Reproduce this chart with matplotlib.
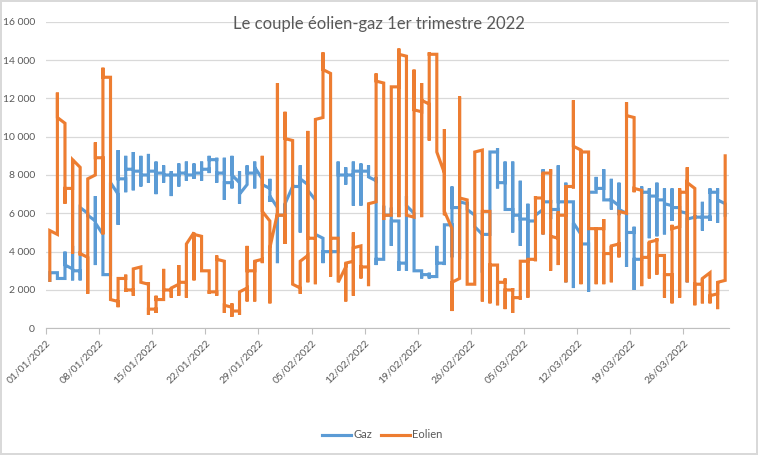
import numpy as np
import pandas as pd
import matplotlib.pyplot as plt

# one entry per day (01/01 -> 31/03): first value, min, max, last value of the day
gaz_open = [2500, 2900, 2600, 3100, 3000, 6000, 5600, 4900, 2800, 7000,
            7800, 8300, 8200, 8000, 8200, 8100, 8000, 8000, 8100, 8000,
            8100, 8300, 8800, 8100, 7600, 7600, 7500, 8100, 7800, 7300,
            6300, 5900, 7400, 7400, 7500, 6700, 4700, 4000, 4000, 8000,
            8000, 8200, 8200, 7700, 3600, 5900, 5600, 3400, 6000, 3000,
            2800, 2700, 3400, 5400, 6300, 6500, 5900, 4900, 4900, 9200,
            7600, 6200, 5900, 5700, 5600, 6200, 6600, 6200, 6600, 6600,
            4900, 4400, 7100, 7300, 6700, 6400, 6000, 5000, 3600, 7100,
            6900, 6700, 6400, 6300, 6000, 5800, 5800, 5800, 7100, 6500]
gaz_low = [2500, 2600, 2600, 2500, 2500, 5800, 3300, 2800, 2800, 5400,
           7100, 7200, 7400, 7600, 7000, 7600, 6900, 7400, 7700, 7800,
           7700, 8100, 7600, 6700, 7300, 6500, 7500, 7300, 7500, 6600,
           3400, 4400, 7300, 5000, 7200, 4900, 3400, 3900, 4000, 7500,
           6400, 6400, 7900, 3300, 3600, 4300, 3000, 3000, 3400, 2600,
           2600, 2700, 3300, 3700, 3600, 6300, 5500, 2900, 4900, 7300,
           6200, 5000, 4300, 3600, 5600, 4900, 5700, 5900, 2400, 2100,
           2400, 1900, 7100, 6900, 6200, 5900, 3200, 2000, 3600, 4700,
           4800, 4900, 5600, 6000, 2400, 5700, 5100, 5600, 5500, 5900]
gaz_high = [2900, 2900, 4000, 4300, 6300, 6000, 6900, 4900, 7600, 9300,
            9000, 9200, 9000, 9100, 8700, 8500, 8200, 8600, 8700, 8600,
            8700, 9000, 8900, 8900, 9000, 8200, 8500, 8700, 7800, 7800,
            6300, 6500, 7500, 8500, 7500, 6700, 4700, 4100, 8700, 8400,
            8700, 8600, 8500, 7900, 6400, 6300, 5600, 6900, 6000, 3000,
            2900, 4300, 5400, 7400, 6700, 6600, 5900, 4900, 9200, 9400,
            8700, 8700, 7700, 6500, 5900, 8300, 6700, 8500, 7600, 6600,
            4900, 7100, 7900, 8300, 7800, 7600, 6000, 5300, 7400, 7300,
            7600, 7300, 7300, 6300, 6100, 5900, 6600, 7300, 7300, 6500]
gaz_close = [2900, 2600, 3300, 3000, 6300, 5900, 5500, 2800, 7600, 7800,
             8300, 8200, 8000, 8200, 8100, 8000, 8000, 8100, 8000, 8100,
             8300, 8800, 8100, 7600, 8000, 7000, 8100, 8400, 7500, 6900,
             5900, 6500, 7400, 7800, 7200, 4900, 4000, 4000, 8000, 8000,
             8200, 8200, 7900, 3600, 5900, 5600, 3400, 6400, 3000, 2800,
             2700, 3400, 5400, 6300, 6600, 6200, 5300, 4900, 9200, 7600,
             6200, 5900, 5700, 5600, 5900, 6600, 6200, 6600, 6600, 5500,
             4400, 7100, 7300, 6700, 6700, 6200, 5000, 3600, 7100, 6900,
             6700, 6500, 6300, 6100, 5700, 5800, 5800, 7100, 6700, 5900]

eol_open = [2500, 4900, 10700, 7300, 8400, 3700, 8000, 8900, 13100, 1400,
            2600, 2000, 3200, 2300, 1000, 1500, 2000, 2300, 2400, 5000,
            4800, 3000, 1900, 3500, 1100, 900, 2100, 3000, 3600, 5600,
            6000, 5900, 9800, 2100, 3800, 4700, 11000, 13300, 4700, 3200,
            3500, 4300, 3200, 6600, 12800, 5900, 12600, 14200, 5800, 11300,
            11700, 14300, 8100, 5200, 2600, 6700, 2300, 9300, 6100, 3300,
            2400, 2000, 1600, 3500, 3600, 6800, 8100, 4700, 5900, 7400,
            9300, 9200, 5200, 5200, 3900, 4400, 6000, 11000, 7200, 3700,
            4600, 3800, 2800, 5300, 7100, 7300, 2300, 2900, 1800, 2500]
eol_low = [2500, 4900, 6500, 3900, 3800, 1800, 8000, 4900, 1500, 1100,
           1900, 1700, 2400, 700, 800, 1500, 1600, 1700, 1600, 2500,
           3000, 1800, 1700, 800, 600, 700, 1400, 1400, 3400, 1300,
           5800, 4400, 2300, 1800, 2400, 2300, 11000, 2700, 2400, 1400,
           1700, 2600, 2200, 6600, 5650, 5900, 5800, 5900, 5800, 5800,
           9800, 9200, 5900, 900, 2600, 2300, 2300, 1400, 1300, 1200,
           1000, 800, 1500, 1600, 3500, 4900, 3000, 3300, 2400, 7300,
           2300, 5200, 2300, 2300, 2400, 3700, 6000, 7100, 2200, 2600,
           2800, 1600, 1300, 1600, 2400, 1200, 1300, 1300, 1000, 2500]
eol_high = [5100, 12300, 10700, 8800, 8400, 7800, 9700, 13600, 13100, 2600,
            2800, 3100, 3200, 2400, 1700, 3100, 2100, 3300, 4400, 5000,
            4800, 3000, 3800, 3500, 1300, 1900, 4300, 3500, 9000, 5600,
            12800, 11300, 9800, 3500, 10300, 10900, 14400, 13300, 4700, 3400,
            5000, 4300, 6500, 13300, 12800, 12600, 14600, 14200, 13500, 12800,
            14400, 14300, 10400, 5200, 12100, 6700, 9200, 9300, 6100, 3300,
            2600, 2100, 3500, 3600, 6900, 8100, 8300, 6100, 7400, 11900,
            9300, 9200, 5200, 5700, 4300, 6100, 11800, 11000, 7200, 4500,
            4700, 3800, 5400, 7300, 8400, 7300, 2600, 2900, 2400, 9000]
eol_close = [5100, 11000, 7300, 8800, 3900, 7800, 8900, 13100, 1500, 2600,
             2000, 3100, 2400, 1000, 1500, 2000, 2100, 2400, 4400, 4900,
             3000, 1900, 3600, 1200, 900, 1900, 3000, 3500, 6100, 4200,
             5900, 9900, 2300, 3500, 4700, 10900, 13500, 4700, 2400, 3400,
             4200, 3200, 6500, 12900, 5900, 12600, 14300, 5900, 11400, 11900,
             14300, 9200, 6100, 2400, 6800, 2300, 9200, 6100, 3300, 2400,
             2000, 1600, 3500, 3600, 6800, 8100, 4800, 5900, 7400, 9500,
             9200, 5200, 5200, 3900, 4300, 6100, 11100, 7300, 3700, 4500,
             3800, 2800, 5200, 7100, 7600, 2300, 2600, 1700, 2400, 9000]

dates = pd.date_range("2022-01-01", "2022-03-31", freq="D")
tick_days = np.arange(0, 90, 7)
tick_labels = [dates[i].strftime("%d/%m/%Y") for i in tick_days]


def day_path(o, lo, hi, c):
    # all points of one day sit on the same x (Excel date axis)
    xs, ys = [], []
    for d in range(len(o)):
        if abs(o[d] - lo[d]) < abs(o[d] - hi[d]):
            seq = [o[d], lo[d], hi[d], c[d]]
        else:
            seq = [o[d], hi[d], lo[d], c[d]]
        xs += [d + 0.5] * 4
        ys += seq
    return xs, ys


plt.rcParams["font.family"] = ["Lato", "DejaVu Sans"]
grey = "#595959"

fig = plt.figure(figsize=(7.58, 4.55), dpi=100)
fig.patch.set_edgecolor("#d9d9d9")
fig.patch.set_linewidth(1.5)
ax = fig.add_axes([0.0607, 0.2785, 0.9010, 0.6738])

gx, gy = day_path(gaz_open, gaz_low, gaz_high, gaz_close)
ex, ey = day_path(eol_open, eol_low, eol_high, eol_close)
ax.plot(gx, gy, color="#5B9BD5", linewidth=2.25, label="Gaz", solid_joinstyle="miter")
ax.plot(ex, ey, color="#ED7D31", linewidth=2.25, label="Eolien", solid_joinstyle="miter")

ax.set_xlim(0, 90)
ax.set_ylim(0, 16000)
ax.set_yticks(np.arange(0, 16001, 2000))
ax.set_yticklabels([f"{v:,}".replace(",", " ") for v in range(0, 16001, 2000)])
ax.set_xticks(tick_days)
ax.set_xticklabels(tick_labels, rotation=45, ha="right", va="top", rotation_mode="anchor")
ax.grid(axis="y", color="#d9d9d9", linewidth=0.9)
ax.set_axisbelow(True)
for s in ["top", "right", "left"]:
    ax.spines[s].set_visible(False)
ax.spines["bottom"].set_color("#bfbfbf")
ax.tick_params(axis="x", colors="#bfbfbf", length=4, labelcolor=grey, labelsize=7.5, pad=3)
ax.tick_params(axis="y", length=0, labelcolor=grey, labelsize=7.5, pad=8)

# the title sits over the top gridline, as in the original
fig.text(0.5, 0.948, "Le couple éolien-gaz 1er trimestre 2022", ha="center", va="center",
         color=grey, fontsize=12)
fig.legend(loc="center", bbox_to_anchor=(0.504, 0.044), ncol=2, frameon=False,
           fontsize=8, labelcolor=grey, handlelength=2.6, columnspacing=0.8, handletextpad=0.2)

fig.savefig("out.png", dpi=100)
